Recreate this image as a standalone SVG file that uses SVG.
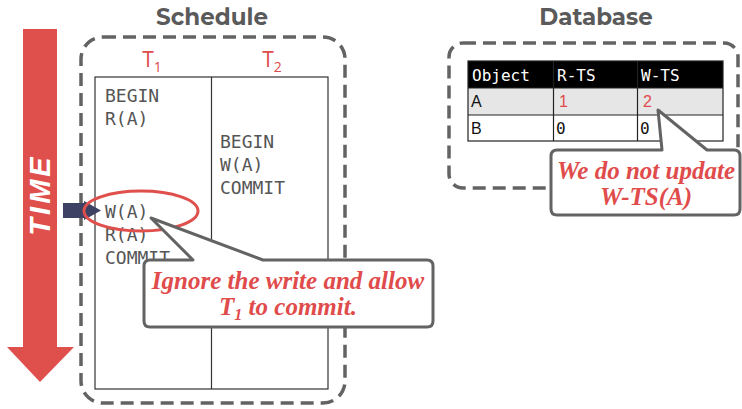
<svg xmlns="http://www.w3.org/2000/svg" width="742" height="409" viewBox="0 0 742 409">
  <style>
    .title { font-family: "Montserrat", "Open Sans", "DejaVu Sans", sans-serif; font-weight: bold; font-size: 23px; fill: #5a5a5a; }
    .dash { fill: none; stroke: #636363; stroke-width: 3.5; stroke-dasharray: 13 7; }
    .grid { fill: #ffffff; stroke: #333333; stroke-width: 1.2; }
    .op { font-family: "DejaVu Sans Mono", "Liberation Mono", monospace; font-size: 18px; fill: #555555; }
    .tx { font-family: "Open Sans", "Liberation Sans", sans-serif; font-size: 21px; fill: #e04b4b; }
    .sub { font-size: 14px; }
    .cell { font-family: "DejaVu Sans Mono", "Liberation Mono", monospace; font-size: 16px; fill: #111111; }
    .hdr { font-family: "DejaVu Sans Mono", "Liberation Mono", monospace; font-size: 16px; fill: #ffffff; }
    .num { font-family: "Liberation Sans", sans-serif; font-size: 16px; fill: #e04b4b; }
    .callout { fill: #ffffff; stroke: #636363; stroke-width: 3; stroke-linejoin: round; }
    .note { font-family: "Liberation Serif", "DejaVu Serif", serif; font-weight: bold; font-style: italic; font-size: 25px; fill: #e04b4b; text-anchor: middle; }
  </style>

  <!-- time axis -->
  <g id="time-arrow">
    <path d="M23,29 H57 V347 H74 L40,382 L7,347 H23 Z" fill="#df4f4c"/>
    <text transform="translate(50,195) rotate(-90)" text-anchor="middle" font-family="Liberation Sans, sans-serif" font-weight="bold" font-style="italic" font-size="29" fill="#ffffff" letter-spacing="3">TIME</text>
  </g>

  <!-- schedule panel -->
  <g id="schedule">
    <text class="title" x="212" y="25" text-anchor="middle">Schedule</text>
    <rect class="dash" x="81" y="37" width="264" height="366" rx="22"/>
    <rect class="grid" x="95" y="77" width="233" height="312"/>
    <line x1="211.5" y1="77" x2="211.5" y2="389" stroke="#333333" stroke-width="1.2"/>
    <text class="tx" x="152" y="67" text-anchor="middle">T<tspan class="sub" dy="5">1</tspan></text>
    <text class="tx" x="272" y="67" text-anchor="middle">T<tspan class="sub" dy="5">2</tspan></text>
  </g>

  <g id="t1-ops">
    <text class="op" x="105" y="102">BEGIN</text>
    <text class="op" x="105" y="125">R(A)</text>
    <text class="op" x="105" y="218">W(A)</text>
    <text class="op" x="105" y="241">R(A)</text>
    <text class="op" x="105" y="264">COMMIT</text>
  </g>

  <g id="t2-ops">
    <text class="op" x="220" y="148">BEGIN</text>
    <text class="op" x="220" y="171">W(A)</text>
    <text class="op" x="220" y="194">COMMIT</text>
  </g>

  <!-- current-step pointer and highlight -->
  <g id="step-marker">
    <rect x="63" y="203" width="22" height="15" fill="#3d4264"/>
    <path d="M84,201 L101,210.5 L84,220 Z" fill="#3d4264"/>
  </g>
  <g id="highlight">
    <ellipse cx="141" cy="211" rx="57" ry="20" fill="none" stroke="#df4f4c" stroke-width="3"/>
  </g>

  <!-- database panel -->
  <g id="database">
    <text class="title" x="596" y="25" text-anchor="middle">Database</text>
    <rect class="dash" x="449" y="43" width="289" height="145" rx="14"/>
    <rect x="468" y="61" width="255" height="27" fill="#000000"/>
    <rect x="468" y="88" width="255" height="27" fill="#e6e6e6"/>
    <rect x="468" y="115" width="255" height="26" fill="#ffffff"/>
    <g stroke="#222222" stroke-width="1.2" fill="none">
      <rect x="468" y="61" width="255" height="80"/>
      <line x1="468" y1="88" x2="723" y2="88"/>
      <line x1="468" y1="115" x2="723" y2="115"/>
      <line x1="553.5" y1="61" x2="553.5" y2="141"/>
      <line x1="637.5" y1="61" x2="637.5" y2="141"/>
    </g>
    <text class="hdr" x="472" y="81">Object</text>
    <text class="hdr" x="557" y="81">R-TS</text>
    <text class="hdr" x="641" y="81">W-TS</text>
    <text class="num" x="471" y="107" style="fill:#111111">A</text>
    <text class="num" x="559" y="107">1</text>
    <text class="num" x="643" y="107">2</text>
    <text class="num" x="471" y="134" style="fill:#111111">B</text>
    <text class="cell" x="556" y="134">0</text>
    <text class="cell" x="640" y="134">0</text>
  </g>

  <!-- callouts -->
  <g id="callout-ignore">
    <path class="callout" d="M153,260 H150 Q144,260 144,266 V321 Q144,327 150,327 H427 Q433,327 433,321 V266 Q433,260 427,260 H263 L151,218 L193,260 Z"/>
    <text class="note" x="288" y="289">Ignore the write and allow</text>
    <text class="note" x="288" y="315">T<tspan font-size="16" dy="5">1</tspan><tspan dy="-5"> to commit.</tspan></text>
  </g>

  <g id="callout-wts">
    <path class="callout" d="M557,150 H662 L658,110 L707,150 H734 Q740,150 740,156 V209 Q740,215 734,215 H557 Q551,215 551,209 V156 Q551,150 557,150 Z"/>
    <text class="note" x="646" y="179">We do not update</text>
    <text class="note" x="646" y="205">W-TS(A)</text>
  </g>
</svg>
